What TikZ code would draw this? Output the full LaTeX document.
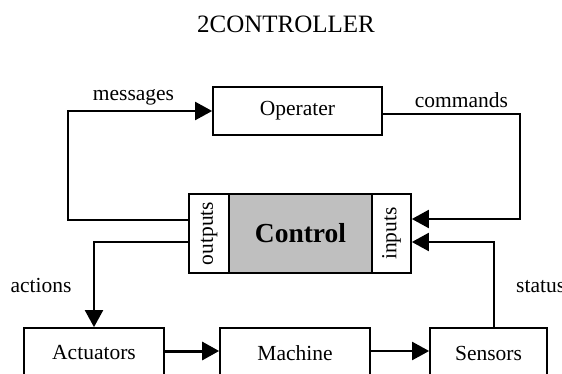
\documentclass[tikz,border=0pt]{standalone}
\usepackage{fontspec, graphicx}
\setmainfont{Liberation Serif}
\usetikzlibrary{positioning, arrows.meta}

\begin{document}
\begin{tikzpicture}[x=1pt, y=-1pt]


\tikzstyle{box_style} = [draw, line width=1.7pt, inner sep=0pt, font=\fontsize{21.5}{24}\selectfont]
\tikzstyle{text_style} = [anchor=base, inner sep=0pt, font=\fontsize{21.5}{24}\selectfont]
\tikzstyle{flow_style} = [line width=2.1pt, -{Triangle[length=17pt,width=18pt]}]

\useasboundingbox (0,0) rectangle (562,374);
\clip (0,0) rectangle (562,374);

\node[text_style, font=\fontsize{25}{28}\selectfont] (title) at (286,33) {2CONTROLLER};

\node[box_style, minimum width=169, minimum height=48] (oper) at (297.5,111) {Operater};

\node[box_style, minimum width=40, minimum height=79] (outs) at (209,233.5) {\rotatebox{90}{outputs}};
\node[box_style, minimum width=143, minimum height=79, fill=black!25,
      font=\fontsize{27.5}{30}\selectfont\bfseries] (ctrl) at (300.5,233.5) {Control};
\node[box_style, minimum width=39, minimum height=79] (ins) at (391.5,233.5) {\rotatebox{90}{inputs}};

\node[box_style, minimum width=140, minimum height=50] (act) at (94,353) {Actuators};
\node[box_style, minimum width=150, minimum height=50] (mach) at (295,353) {Machine};
\node[box_style, minimum width=117, minimum height=50] (sens) at (488.5,353) {Sensors};

\node[text_style] (msg) at (133.5,101) {messages};
\node[text_style] (cmd) at (461.5,108) {commands};
\node[text_style] (actn) at (41,292) {actions};
\node[text_style, anchor=base west] (stat) at (516,292) {status};

\draw[flow_style]  ([yshift=13.5pt]outs.west) -- ++(-120,0) |- (oper.west);
\draw[flow_style]  ([yshift=-3pt]oper.east) -- ++(137,0) |- ([yshift=14.5pt]ins.east);
\draw[flow_style]  ([yshift=-8.5pt]outs.west) -| (act.north);
\draw[flow_style]  ([xshift=5.5pt]sens.north) |- ([yshift=-8.5pt]ins.east);
\draw[flow_style, line width=3pt]  ([yshift=2pt]act.east) -- ([yshift=2pt]mach.west);
\draw[flow_style]  ([yshift=2pt]mach.east) -- ([yshift=2pt]sens.west);

\end{tikzpicture}
\end{document}
